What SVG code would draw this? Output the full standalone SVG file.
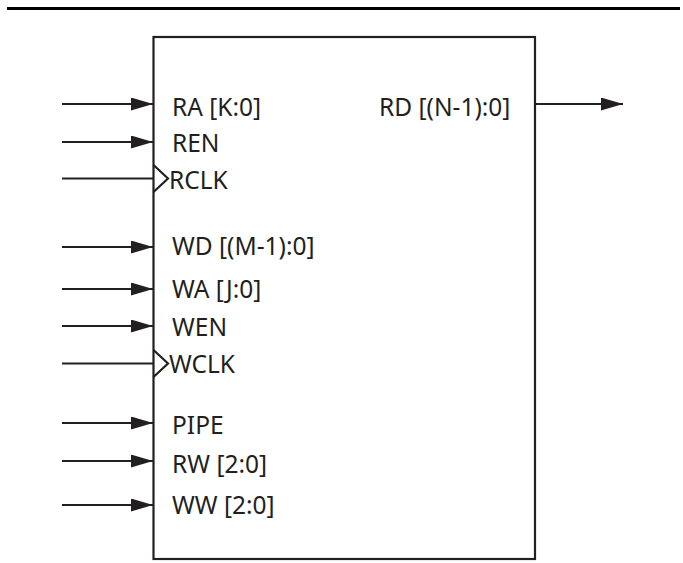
<svg xmlns="http://www.w3.org/2000/svg" width="683" height="563" viewBox="0 0 683 563">
<style>
.w{stroke:#231f20;stroke-width:2.2;fill:none}
.t{font-family:"Noto Sans","Open Sans","DejaVu Sans",sans-serif;font-size:24.5px;fill:#231f20}
</style>
<defs>
<marker id="ah" markerUnits="userSpaceOnUse" markerWidth="23" markerHeight="13" refX="22" refY="6.5" orient="auto">
<path d="M0,0 L22,6.5 L0,13 z" fill="#231f20"/>
</marker>
</defs>
<rect width="683" height="563" fill="#fff"/>
<line x1="7" y1="8.5" x2="680" y2="8.5" stroke="#000" stroke-width="3"/>
<g id="block">
<rect class="w" x="153.5" y="37" width="381.5" height="522"/>
<text class="t" x="172" y="115.5">RA [K:0]</text>
<text class="t" x="172" y="151.5">REN</text>
<text class="t" x="169" y="189">RCLK</text>
<text class="t" x="172" y="255">WD [(M-1):0]</text>
<text class="t" x="172" y="297.5">WA [J:0]</text>
<text class="t" x="172" y="336">WEN</text>
<text class="t" x="169" y="372.5">WCLK</text>
<text class="t" x="172" y="434">PIPE</text>
<text class="t" x="172" y="473">RW [2:0]</text>
<text class="t" x="172" y="513.5">WW [2:0]</text>
<text class="t" x="379" y="116">RD [(N-1):0]</text>
<polyline class="w" points="153.5,165 168,178.5 153.5,192"/>
<polyline class="w" points="153.5,350 168,363.5 153.5,377"/>
</g>
<g id="connectors">
<line class="w" x1="62" y1="104" x2="153" y2="104" marker-end="url(#ah)"/>
<line class="w" x1="62" y1="142" x2="153" y2="142" marker-end="url(#ah)"/>
<line class="w" x1="62" y1="178.5" x2="153" y2="178.5"/>
<line class="w" x1="62" y1="247" x2="153" y2="247" marker-end="url(#ah)"/>
<line class="w" x1="62" y1="289" x2="153" y2="289" marker-end="url(#ah)"/>
<line class="w" x1="62" y1="326" x2="153" y2="326" marker-end="url(#ah)"/>
<line class="w" x1="62" y1="363.5" x2="153" y2="363.5"/>
<line class="w" x1="62" y1="423" x2="153" y2="423" marker-end="url(#ah)"/>
<line class="w" x1="62" y1="461" x2="153" y2="461" marker-end="url(#ah)"/>
<line class="w" x1="62" y1="505" x2="153" y2="505" marker-end="url(#ah)"/>
<line class="w" x1="535" y1="104" x2="623" y2="104" marker-end="url(#ah)"/>
</g>
</svg>
